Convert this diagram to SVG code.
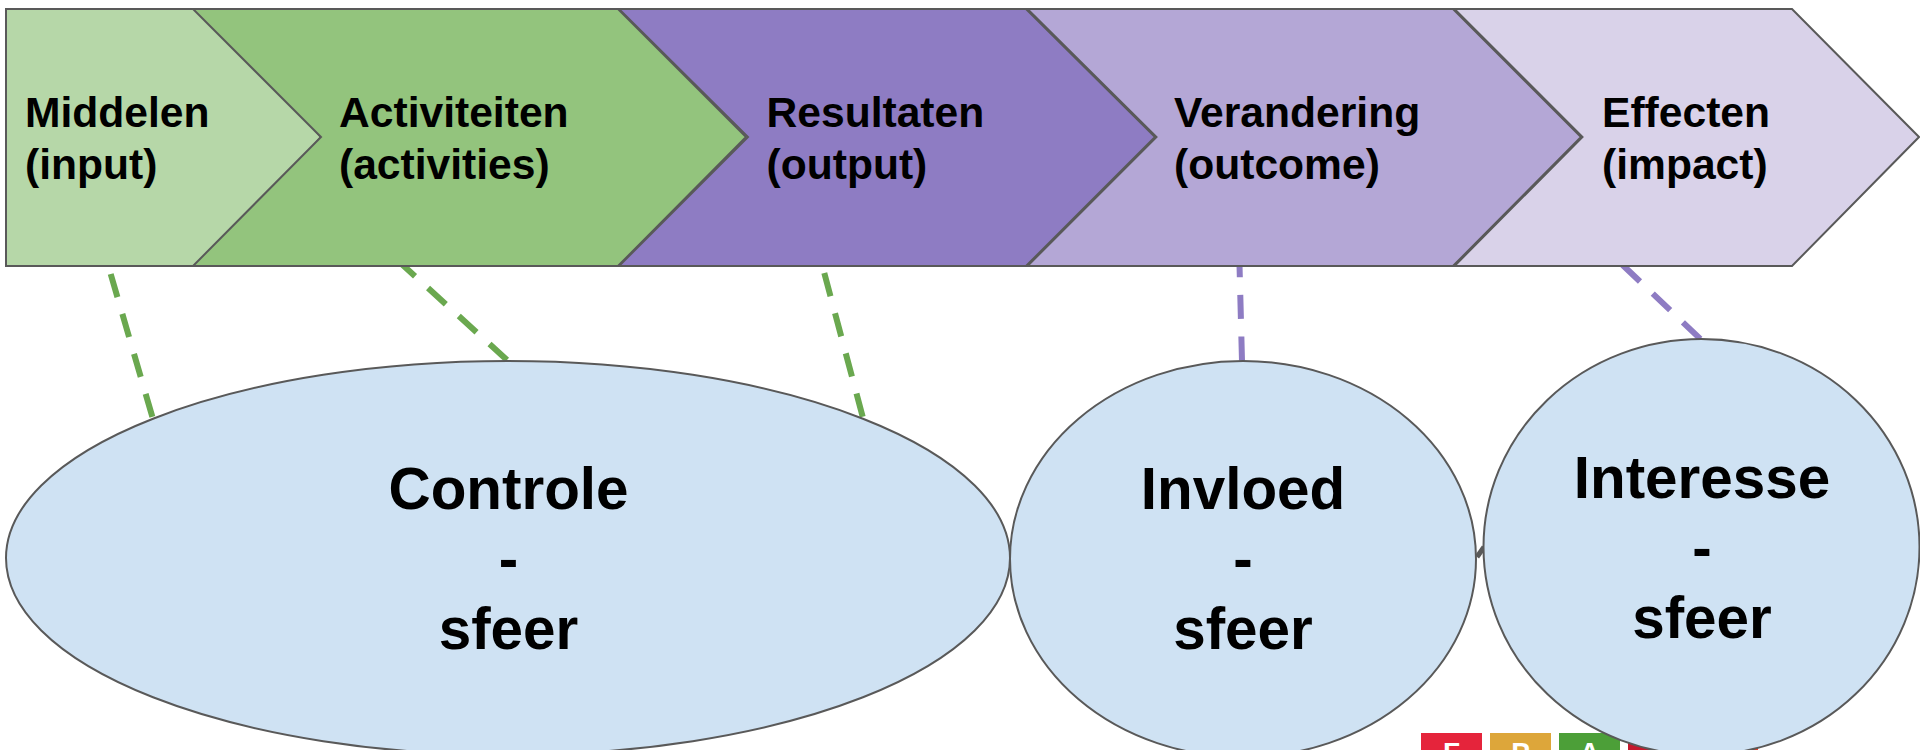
<svg xmlns="http://www.w3.org/2000/svg" width="1920" height="750" viewBox="0 0 1920 750">
<style>
.shape{stroke:#595959;stroke-width:2;stroke-linejoin:miter}
text{font-family:"Liberation Sans",Arial,sans-serif;font-weight:700;fill:#000}
.s{font-size:42.6px}
.b{font-size:58.4px;text-anchor:middle}
.d{fill:none;stroke-width:6;stroke-dasharray:24 17.6}
.g{stroke:#6aa84f}
.p{stroke:#8e7cc3}
.tile{font-size:28px;text-anchor:middle;fill:#fff}
</style>
<rect width="1920" height="750" fill="#fff"/>
<g id="logo">
<rect x="1421" y="733" width="61" height="17" fill="#e5243b"/>
<rect x="1490" y="733" width="61" height="17" fill="#dda63a"/>
<rect x="1559" y="733" width="61" height="17" fill="#4c9f38"/>
<rect x="1628" y="733" width="61" height="17" fill="#c5192d"/>
<rect x="1697" y="733" width="61" height="17" fill="#ff3a21"/>
<text class="tile" x="1451.5" y="761.5">F</text>
<text class="tile" x="1520.5" y="761.5">P</text>
<text class="tile" x="1589.5" y="761.5">A</text>
</g>
<g id="connectors">
<line class="d g" x1="110.7" y1="274" x2="152.7" y2="418"/>
<line class="d g" x1="397.3" y1="260" x2="507" y2="360"/>
<line class="d g" x1="824.3" y1="273" x2="863" y2="418"/>
<line class="d p" x1="1239.2" y1="253.3" x2="1242" y2="361"/>
<line class="d p" x1="1622.6" y1="265" x2="1701" y2="339.5"/>
<line x1="1477" y1="557" x2="1484" y2="547" stroke="#595959" stroke-width="5"/>
</g>
<g id="chevron-middelen">
<polygon class="shape" fill="#b6d7a8" points="6,9 209,9 321,137 209,266 6,266"/>
<text class="s" x="25" y="127">Middelen</text>
<text class="s" x="25" y="179">(input)</text>
</g>
<g id="chevron-activiteiten">
<polygon class="shape" fill="#93c47d" points="193,9 618,9 746,137 618,266 193,266 321,137"/>
<text class="s" x="339" y="127">Activiteiten</text>
<text class="s" x="339" y="179">(activities)</text>
</g>
<g id="chevron-resultaten">
<polygon class="shape" fill="#8e7cc3" points="619,9 1026,9 1155,137 1026,266 619,266 748,137"/>
<text class="s" x="766.5" y="127">Resultaten</text>
<text class="s" x="766.5" y="179">(output)</text>
</g>
<g id="chevron-verandering">
<polygon class="shape" fill="#b4a7d6" points="1027.5,9 1453,9 1581,137 1453,266 1027.5,266 1156.5,137"/>
<text class="s" x="1174" y="127">Verandering</text>
<text class="s" x="1174" y="179">(outcome)</text>
</g>
<g id="chevron-effecten">
<polygon class="shape" fill="#d9d2e9" points="1454.5,9 1792,9 1919,137 1792,266 1454.5,266 1582.5,137"/>
<text class="s" x="1602" y="127">Effecten</text>
<text class="s" x="1602" y="179">(impact)</text>
</g>
<g id="node-controle">
<ellipse class="shape" fill="#cfe2f3" cx="508" cy="558" rx="502" ry="197"/>
<text class="b" x="508.5" y="509">Controle</text>
<text class="b" x="508.5" y="579">-</text>
<text class="b" x="508.5" y="649">sfeer</text>
</g>
<g id="node-invloed">
<ellipse class="shape" fill="#cfe2f3" cx="1243" cy="559" rx="233" ry="198"/>
<text class="b" x="1243" y="509">Invloed</text>
<text class="b" x="1243" y="579">-</text>
<text class="b" x="1243" y="649">sfeer</text>
</g>
<g id="node-interesse">
<ellipse class="shape" fill="#cfe2f3" cx="1701.5" cy="547" rx="218" ry="208"/>
<text class="b" x="1702" y="498">Interesse</text>
<text class="b" x="1702" y="568">-</text>
<text class="b" x="1702" y="638">sfeer</text>
</g>
</svg>
